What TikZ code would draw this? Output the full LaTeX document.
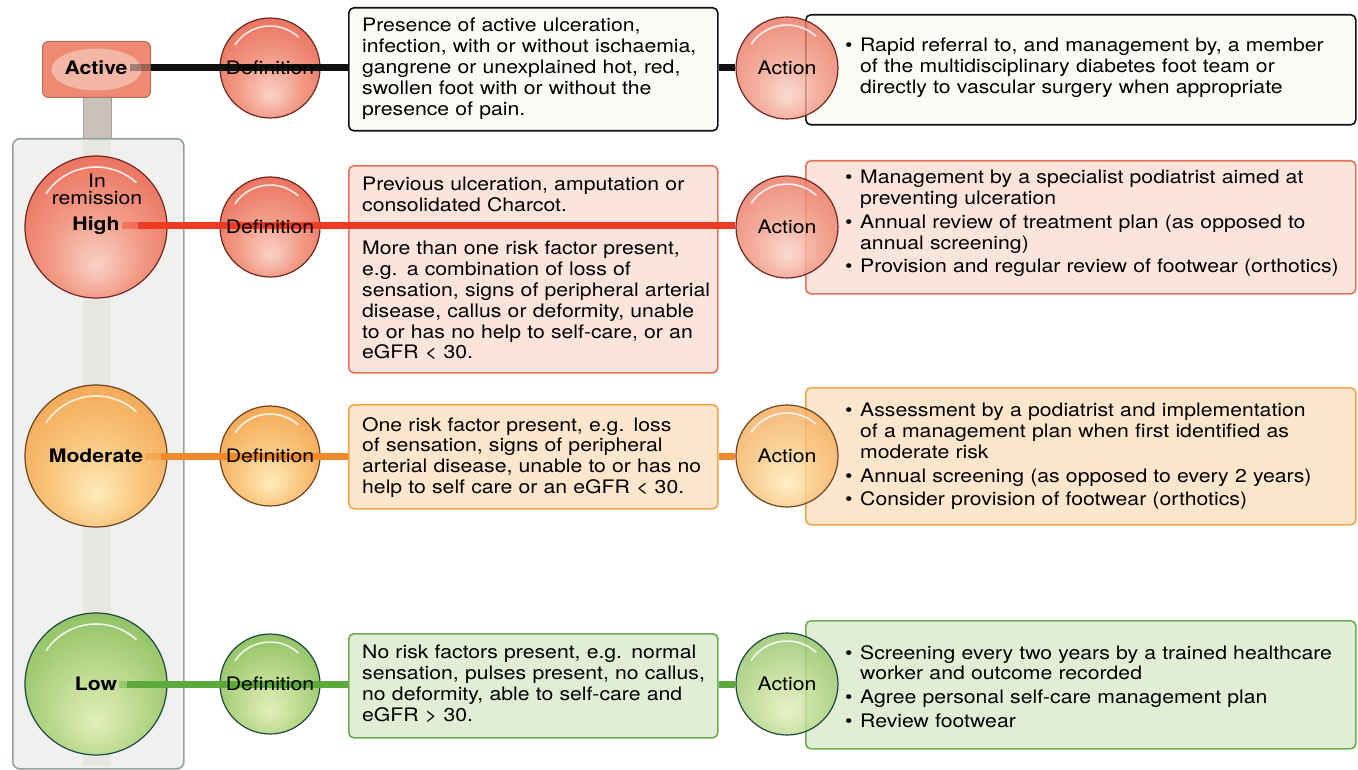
\documentclass[tikz,border=0pt]{standalone}
\usepackage{fontspec}
\setmainfont{TeX Gyre Heros}[FakeStretch=1.14]
\usetikzlibrary{calc}
\definecolor{rin}{HTML}{F9D3C6}
\definecolor{rmid}{HTML}{F29A86}
\definecolor{rm2}{HTML}{EA705C}
\definecolor{rout}{HTML}{E05A47}
\definecolor{rbd}{HTML}{6E2A20}
\definecolor{oin}{HTML}{FFEBBA}
\definecolor{omid}{HTML}{F9C67E}
\definecolor{om2}{HTML}{F4A652}
\definecolor{oout}{HTML}{EE9336}
\definecolor{obd}{HTML}{6E4520}
\definecolor{gin}{HTML}{E3EFBB}
\definecolor{gmid}{HTML}{BAD98C}
\definecolor{gm2}{HTML}{8EC062}
\definecolor{gout}{HTML}{6FAA46}
\definecolor{gbd}{HTML}{1E4A42}
\definecolor{rbox}{HTML}{FBE4DC}
\definecolor{rboxd}{HTML}{E6725C}
\definecolor{obox}{HTML}{FDE6CC}
\definecolor{oboxd}{HTML}{F1A64C}
\definecolor{gbox}{HTML}{E2EDD6}
\definecolor{gboxd}{HTML}{6CAE52}
\definecolor{wbox}{HTML}{FBFCF7}
\definecolor{kline}{HTML}{111111}
\definecolor{rline}{HTML}{EE3B24}
\definecolor{oline}{HTML}{F18A2B}
\definecolor{gline}{HTML}{5DAA3C}
\definecolor{panelf}{HTML}{F0F0EE}
\definecolor{paneld}{HTML}{95A29C}
\definecolor{stripe}{HTML}{E9E7E4}
\definecolor{stemf}{HTML}{C9C2BB}
\definecolor{stemd}{HTML}{A7A09A}
\definecolor{actf}{HTML}{EE8A71}
\definecolor{actin}{HTML}{F6C2B2}
\definecolor{actd}{HTML}{B0705E}
\pgfdeclareradialshading{redball}{\pgfpoint{0bp}{-14bp}}{color(0bp)=(rin); color(16bp)=(rmid); color(32bp)=(rm2); color(50bp)=(rout)}
\pgfdeclareradialshading{orangeball}{\pgfpoint{0bp}{-14bp}}{color(0bp)=(oin); color(16bp)=(omid); color(32bp)=(om2); color(50bp)=(oout)}
\pgfdeclareradialshading{greenball}{\pgfpoint{0bp}{-14bp}}{color(0bp)=(gin); color(16bp)=(gmid); color(32bp)=(gm2); color(50bp)=(gout)}
\newcommand\bfirst[1]{\noindent\makebox[15pt][l]{\textbullet}\parbox[t]{480pt}{\raggedright #1\strut}\par\prevdepth=\dp\strutbox}
\newcommand\bnext[1]{\vskip3pt\noindent\makebox[15pt][l]{\textbullet}\parbox[t]{480pt}{\raggedright #1\strut}\par\prevdepth=\dp\strutbox}
\newcommand\gloss[2]{\draw[glossline] ($(#1.center)+(214:#2)$) arc[start angle=214,end angle=312,radius=#2];}
\tikzset{
  ball/.style 2 args={circle, inner sep=0pt, shading=#1, draw=#2, line width=1.2pt},
  boxn/.style 2 args={rectangle, rounded corners=5pt, anchor=north west, inner sep=0pt, fill=#1, draw=#2, line width=1.6pt},
  txt/.style={anchor=north west, inner sep=0pt, align=left, text width=#1, font=\fontsize{18.6}{20.8}\selectfont, text=black},
  lbl/.style={inner sep=0pt, font=\fontsize{18.6}{20.8}\selectfont, text=black},
  conn/.style={line width=7pt, draw=#1},
  glossline/.style={draw=white, line width=1.6pt, opacity=0.85, line cap=round},
}
\begin{document}
\begin{tikzpicture}[x=1pt,y=-1pt]
\useasboundingbox (0,0) rectangle (1358,770);
\fill[white] (0,0) rectangle (1358,770);
% left panel
\draw[fill=stemf, draw=stemd, line width=1pt] (83,95) rectangle (111,140);
\node[rectangle, rounded corners=7pt, anchor=north west, inner sep=0pt, minimum width=171pt, minimum height=630pt, fill=panelf, draw=paneld, line width=1.6pt] (panel) at (12,138) {};
\fill[stripe] (83,140) rectangle (111,766);
\node[rectangle, rounded corners=6pt, anchor=north west, inner sep=0pt, minimum width=108pt, minimum height=56pt, fill=actf, draw=actd, line width=1pt] (abox) at (42,41) {};
\fill[actin, opacity=0.8] (abox.center) ellipse[x radius=45, y radius=21];
% boxes
\node[boxn={wbox}{kline}, minimum width=369pt, minimum height=123pt] (adb) at (348,7) {};
\node[boxn={wbox}{kline}, minimum width=550pt, minimum height=110pt] (aab) at (805,14) {};
\node[boxn={rbox}{rboxd}, minimum width=369pt, minimum height=207pt] (hdb) at (348,165) {};
\node[boxn={rbox}{rboxd}, minimum width=550pt, minimum height=133pt] (hab) at (805,160) {};
\node[boxn={obox}{oboxd}, minimum width=369pt, minimum height=104pt] (mdb) at (348,404) {};
\node[boxn={obox}{oboxd}, minimum width=550pt, minimum height=137pt] (mab) at (805,387) {};
\node[boxn={gbox}{gboxd}, minimum width=369pt, minimum height=104pt] (ldb) at (348,633) {};
\node[boxn={gbox}{gboxd}, minimum width=550pt, minimum height=128pt] (lab) at (805,620) {};
% level circles
\node[ball={redball}{rbd}, minimum size=142pt] (hc) at (96,227) {};
\node[ball={orangeball}{obd}, minimum size=142pt] (mc) at (96,456) {};
\node[ball={greenball}{gbd}, minimum size=142pt] (lc) at (96,684) {};
\gloss{hc}{60}\gloss{mc}{60}\gloss{lc}{60}
% definition circles
\node[ball={redball}{rbd}, minimum size=100pt] (ad) at (270,68) {};
\node[ball={redball}{rbd}, minimum size=100pt] (hd) at (270,227) {};
\node[ball={orangeball}{obd}, minimum size=100pt] (md) at (270,456) {};
\node[ball={greenball}{gbd}, minimum size=100pt] (ld) at (270,684) {};
\gloss{ad}{42}\gloss{hd}{42}\gloss{md}{42}\gloss{ld}{42}
% level labels
\node[lbl, font=\fontsize{18.6}{20.8}\selectfont\bfseries] (atx) at (96,68) {Active};
\node[lbl, font=\fontsize{18.6}{20.8}\selectfont\bfseries] (htx) at (96,226) {High};
\node[lbl, align=center, font=\fontsize{18.6}{17}\selectfont] (irx) at (97,189.5) {In\\remission};
\node[lbl, font=\fontsize{18.6}{20.8}\selectfont\bfseries] (mtx) at (96,456) {Moderate};
\node[lbl, font=\fontsize{18.6}{20.8}\selectfont\bfseries] (ltx) at (96,684) {Low};
% connectors (faded starts)
\draw[conn=kline, opacity=0.35] ([xshift=2pt]atx.east) -- (atx.east -| abox.east);
\draw[conn=kline] (atx.east -| abox.east) -- (atx.east -| adb.west);
\draw[conn=rline, opacity=0.4] ([xshift=2pt]htx.east) -- ([xshift=18pt]htx.east);
\draw[conn=oline, opacity=0.4] ([xshift=2pt]mtx.east) -- ([xshift=18pt]mtx.east);
\draw[conn=gline, opacity=0.4] ([xshift=2pt]ltx.east) -- ([xshift=10pt]ltx.east);
% action circles
\node[ball={redball}{rbd}, minimum size=102pt, fill opacity=0.8, draw opacity=1] (aa) at (787,68) {};
\node[ball={redball}{rbd}, minimum size=102pt, fill opacity=0.8, draw opacity=1] (ha) at (787,227) {};
\node[ball={orangeball}{obd}, minimum size=102pt, fill opacity=0.8, draw opacity=1] (ma) at (787,456) {};
\node[ball={greenball}{gbd}, minimum size=102pt, fill opacity=0.8, draw opacity=1] (la) at (787,684) {};
\gloss{aa}{43}\gloss{ha}{43}\gloss{ma}{43}\gloss{la}{43}
\draw[conn=kline] (aa.west -| adb.east) -- (aa.west);
\draw[conn=rline] ([xshift=18pt]htx.east) -- (htx.east -| ha.west);
\draw[conn=oline] ([xshift=18pt]mtx.east) -- (mtx.east -| mdb.west);
\draw[conn=oline] (ma.west -| mdb.east) -- (ma.west);
\draw[conn=gline] ([xshift=10pt]ltx.east) -- (ltx.east -| ldb.west);
\draw[conn=gline] (la.west -| ldb.east) -- (la.west);
% circle labels
\node[lbl] (adx) at (ad) {Definition};
\node[lbl] (hdx) at (hd) {Definition};
\node[lbl] (mdx) at (md) {Definition};
\node[lbl] (ldx) at (ld) {Definition};
\node[lbl] (aax) at (aa) {Action};
\node[lbl] (hax) at (ha) {Action};
\node[lbl] (max) at (ma) {Action};
\node[lbl] (lax) at (la) {Action};
% definition texts
\node[txt=355pt] (adt) at (362,18) {Presence of active ulceration,\\infection, with or without ischaemia,\\gangrene or unexplained hot, red,\\swollen foot with or without the\\presence of pain.};
\node[txt=355pt] (hdt1) at (362,177) {Previous ulceration, amputation or\\consolidated Charcot.};
\node[txt=355pt] (hdt2) at (362,241) {More than one risk factor present,\\e.g. a combination of loss of\\sensation, signs of peripheral arterial\\disease, callus or deformity, unable\\to or has no help to self-care, or an\\eGFR < 30.};
\node[txt=355pt] (mdt) at (362,417) {One risk factor present, e.g. loss\\of sensation, signs of peripheral\\arterial disease, unable to or has no\\help to self care or an eGFR < 30.};
\node[txt=355pt] (ldt) at (362,645) {No risk factors present, e.g. normal\\sensation, pulses present, no callus,\\no deformity, able to self-care and\\eGFR > 30.};
% action texts
\node[txt=505pt] (aat) at (845,38) {\bfirst{Rapid referral to, and management by, a member\\of the multidisciplinary diabetes foot team or\\directly to vascular surgery when appropriate}};
\node[txt=505pt] (hat) at (845,170) {\bfirst{Management by a specialist podiatrist aimed at\\preventing ulceration}\bnext{Annual review of treatment plan (as opposed to\\annual screening)}\bnext{Provision and regular review of footwear (orthotics)}};
\node[txt=505pt] (mat) at (845,403) {\bfirst{Assessment by a podiatrist and implementation\\of a management plan when first identified as\\moderate risk}\bnext{Annual screening (as opposed to every 2 years)}\bnext{Consider provision of footwear (orthotics)}};
\node[txt=505pt] (lat) at (845,645) {\bfirst{Screening every two years by a trained healthcare\\worker and outcome recorded}\bnext{Agree personal self-care management plan}\bnext{Review footwear}};
\end{tikzpicture}
\end{document}
